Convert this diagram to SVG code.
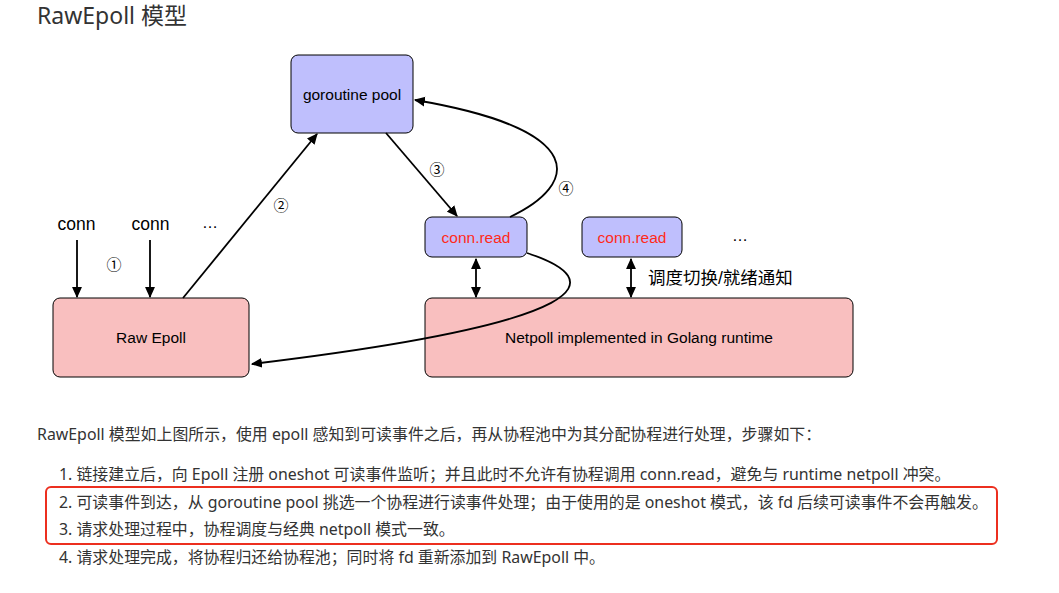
<svg xmlns="http://www.w3.org/2000/svg" width="1059" height="593" viewBox="0 0 1059 593">
<defs>
<style>
.dia{font-family:"Liberation Sans",Arial,"Noto Sans CJK SC",sans-serif;fill:#000;}
.box-b{fill:#bfbffd;stroke:#000;stroke-width:1;}
.box-p{fill:#f9bfbf;stroke:#000;stroke-width:1;}
.lbl{font-size:15.5px;text-anchor:middle;}
.red{fill:#ff2a1a;}
.num{font-family:"Noto Sans CJK SC",sans-serif;font-size:15px;text-anchor:middle;fill:#000;}
.edge{fill:none;stroke:#000;stroke-width:1.8;}
.doc{font-family:"Noto Sans","Noto Sans CJK SC",sans-serif;font-size:15.9px;fill:#333;}
</style>
<marker id="ah" viewBox="0 0 10 10" refX="9" refY="5" markerWidth="11" markerHeight="11" markerUnits="userSpaceOnUse" orient="auto-start-reverse">
<path d="M0,0.5 L10,5 L0,9.5 z" fill="#000"/>
</marker>
</defs>
<rect width="1059" height="593" fill="#fff"/>
<text x="37" y="24" font-family="Noto Sans,Noto Sans CJK SC,sans-serif" font-size="23" fill="#333">RawEpoll 模型</text>

<g id="conn1"><text class="dia" x="76.5" y="230" font-size="17.5" text-anchor="middle">conn</text></g>
<g id="conn2"><text class="dia" x="150.5" y="230" font-size="17.5" text-anchor="middle">conn</text></g>
<g id="dots1"><text class="dia" x="210" y="228" font-size="16" text-anchor="middle">…</text></g>

<g id="goroutine-pool">
<rect class="box-b" x="291" y="55" width="122" height="78" rx="7"/>
<text class="dia lbl" x="352" y="100">goroutine pool</text>
</g>
<g id="raw-epoll">
<rect class="box-p" x="53" y="298" width="196" height="79" rx="7"/>
<text class="dia lbl" x="151" y="343">Raw Epoll</text>
</g>
<g id="conn-read-1">
<rect class="box-b" x="425" y="217" width="102" height="40" rx="7"/>
<text class="dia lbl red" x="476" y="243">conn.read</text>
</g>
<g id="conn-read-2">
<rect class="box-b" x="582" y="217" width="100" height="40" rx="7"/>
<text class="dia lbl red" x="632" y="243">conn.read</text>
</g>
<g id="dots2"><text class="dia" x="740" y="241" font-size="16" text-anchor="middle">…</text></g>
<g id="netpoll">
<rect class="box-p" x="425" y="298" width="428" height="79" rx="7"/>
<text class="dia lbl" x="639" y="343">Netpoll implemented in Golang runtime</text>
</g>

<g id="connectors">
<line class="edge" x1="77" y1="240" x2="77" y2="297" marker-end="url(#ah)"/>
<line class="edge" x1="150" y1="240" x2="150" y2="297" marker-end="url(#ah)"/>
<line class="edge" x1="183" y1="298" x2="317" y2="134" marker-end="url(#ah)"/>
<line class="edge" x1="386" y1="133" x2="457" y2="216" marker-end="url(#ah)"/>
<path class="edge" d="M510,217 C578,185 592,130 415,100" marker-end="url(#ah)"/>
<path class="edge" d="M527,253 C610,280 600,322 252,364" marker-end="url(#ah)"/>
<line class="edge" x1="476" y1="259" x2="476" y2="297" marker-start="url(#ah)" marker-end="url(#ah)"/>
<line class="edge" x1="631" y1="259" x2="631" y2="297" marker-start="url(#ah)" marker-end="url(#ah)"/>
<text class="num" x="114" y="270">①</text>
<text class="num" x="281" y="211">②</text>
<text class="num" x="437" y="175">③</text>
<text class="num" x="566" y="194">④</text>
<text class="dia" x="648" y="284" font-size="17.5">调度切换/就绪通知</text>
</g>

<g id="doc">
<text class="doc" x="37" y="440">RawEpoll 模型如上图所示，使用 epoll 感知到可读事件之后，再从协程池中为其分配协程进行处理，步骤如下：</text>
<text class="doc" x="59" y="480">1. 链接建立后，向 Epoll 注册 oneshot 可读事件监听；并且此时不允许有协程调用 conn.read，避免与 runtime netpoll 冲突。</text>
<text class="doc" x="59" y="508">2. 可读事件到达，从 goroutine pool 挑选一个协程进行读事件处理；由于使用的是 oneshot 模式，该 fd 后续可读事件不会再触发。</text>
<text class="doc" x="59" y="535">3. 请求处理过程中，协程调度与经典 netpoll 模式一致。</text>
<text class="doc" x="59" y="563">4. 请求处理完成，将协程归还给协程池；同时将 fd 重新添加到 RawEpoll 中。</text>
<rect x="46" y="487" width="951" height="57" rx="5" fill="none" stroke="#ec2f1f" stroke-width="2"/>
</g>
</svg>
